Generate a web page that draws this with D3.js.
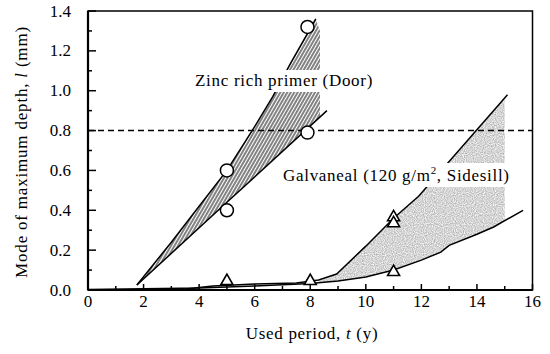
<!DOCTYPE html>
<html><head><meta charset="utf-8">
<script src="https://cdn.jsdelivr.net/npm/d3@7"></script>
<style>body{margin:0;background:#fff}svg{display:block}</style>
</head><body>
<svg id="c" width="550" height="354" font-family="'Liberation Serif', 'DejaVu Serif', serif"></svg>
<script>
// ---- data ----
const xTicks = [0,2,4,6,8,10,12,14,16];
const yTicks = [0.0,0.2,0.4,0.6,0.8,1.0,1.2,1.4];
const criticalDepth = 0.8;
const zincUpper = [[1.76,0.025],[3,0.24],[4,0.42],[5,0.6],[6,0.82],[6.65,0.97],[7.3,1.14],[8.2,1.36]];
const zincLower = [[1.76,0.025],[5,0.44],[8.6,0.9]];
const zincCircles = [[5,0.6],[5,0.4],[7.9,0.79],[7.9,1.32]];
const galvUpper = [[3.5,0.005],[4.5,0.02],[6,0.03],[7.5,0.035],[8.3,0.05],[8.95,0.08],[10,0.22],[11,0.36],[11.9,0.47],[13,0.645],[15.1,0.98]];
const galvLower = [[0,0.003],[4,0.01],[6,0.02],[8,0.033],[9,0.045],[10,0.065],[11,0.1],[12,0.15],[12.7,0.19],[13,0.224],[14,0.28],[14.6,0.316],[15.66,0.40]];
const galvTriangles = [[5,0.045],[8,0.045],[11,0.365],[11,0.335],[11,0.09]];
const zincHatchEnd = 8.35;
const galvStippleStart = 8.3, galvStippleEnd = 15.0;

// ---- setup ----
const svg = d3.select("#c");
const x = d3.scaleLinear().domain([0,16]).range([88,532.5]);
const y = d3.scaleLinear().domain([0,1.4]).range([290,11]);
const line = d3.line().x(d=>x(d[0])).y(d=>y(d[1]));
const interp = (pts,t)=>{for(let i=1;i<pts.length;i++){if(t<=pts[i][0]){const a=pts[i-1],b=pts[i];return a[1]+(b[1]-a[1])*(t-a[0])/(b[0]-a[0]);}}return pts[pts.length-1][1];};

const defs = svg.append("defs");
const hatch = defs.append("pattern").attr("id","hatch").attr("patternUnits","userSpaceOnUse")
  .attr("width",3).attr("height",3).attr("patternTransform","rotate(30)");
hatch.append("line").attr("x1",1).attr("y1",0).attr("x2",1).attr("y2",3).attr("stroke","#1a1a1a").attr("stroke-width",1.1);
const filt = defs.append("filter").attr("id","stip").attr("x",0).attr("y",0).attr("width",1).attr("height",1);
filt.append("feTurbulence").attr("type","fractalNoise").attr("baseFrequency",0.9).attr("numOctaves",1).attr("seed",3).attr("result","n");
filt.append("feColorMatrix").attr("in","n").attr("type","matrix")
  .attr("values","0 0 0 0 0.45  0 0 0 0 0.45  0 0 0 0 0.45  0 0 0 -1.8 1.45").attr("result","c");
filt.append("feComposite").attr("in","c").attr("in2","SourceGraphic").attr("operator","in");

// ---- regions ----
const zincPoly = zincUpper.filter(d=>d[0]<=8.2).concat([[zincHatchEnd,1.3],[zincHatchEnd,interp(zincLower,zincHatchEnd)]])
  .concat(zincLower.filter(d=>d[0]<zincHatchEnd).reverse());
svg.append("path").attr("d",line(zincPoly)+"Z").attr("fill","url(#hatch)");

const gu = galvUpper.filter(d=>d[0]>=galvStippleStart && d[0]<=galvStippleEnd);
const gl = galvLower.filter(d=>d[0]>=galvStippleStart && d[0]<=galvStippleEnd);
const galvPoly = [[galvStippleStart,interp(galvUpper,galvStippleStart)]].concat(gu)
  .concat([[galvStippleEnd,interp(galvUpper,galvStippleEnd)],[galvStippleEnd,interp(galvLower,galvStippleEnd)]])
  .concat(gl.reverse()).concat([[galvStippleStart,interp(galvLower,galvStippleStart)]]);
svg.append("path").attr("d",line(galvPoly)+"Z").attr("fill","#000").attr("filter","url(#stip)");

// ---- lines ----
[zincUpper,zincLower,galvUpper,galvLower].forEach(p=>{
  svg.append("path").attr("d",line(p)).attr("fill","none").attr("stroke","#000").attr("stroke-width",1.5);
});

// dashed critical line
svg.append("line").attr("x1",x(0)).attr("x2",x(16)).attr("y1",y(criticalDepth)).attr("y2",y(criticalDepth))
  .attr("stroke","#000").attr("stroke-width",1.5).attr("stroke-dasharray","6,4");

// ---- annotations with white background ----
function label(tx,ty,build){
  const g = svg.append("g");
  const r = g.append("rect").attr("fill","#fff");
  const t = g.append("text").attr("x",tx).attr("y",ty).attr("font-size",17).attr("letter-spacing",0.7);
  build(t);
  const b = t.node().getBBox();
  r.attr("x",b.x-2).attr("y",b.y-1).attr("width",b.width+4).attr("height",b.height+3);
}
label(195,86,t=>t.text("Zinc rich primer (Door)"));
label(283,181,t=>{
  t.append("tspan").text("Galvaneal (120 g/m");
  t.append("tspan").attr("dy",-7).attr("font-size",11).text("2");
  t.append("tspan").attr("dy",7).text(", Sidesill)");
});

// ---- markers ----
svg.selectAll("circle.m").data(zincCircles).join("circle").attr("class","m")
  .attr("cx",d=>x(d[0])).attr("cy",d=>y(d[1])).attr("r",6.5)
  .attr("fill","#fff").attr("stroke","#000").attr("stroke-width",1.5);
const tri = d3.symbol().type(d3.symbolTriangle).size(62);
svg.selectAll("path.t").data(galvTriangles).join("path").attr("class","t")
  .attr("d",tri).attr("transform",d=>`translate(${x(d[0])},${y(d[1])})`)
  .attr("fill","#fff").attr("stroke","#000").attr("stroke-width",1.6);

// ---- axes ----
const ax = svg.append("g");
d3.range(1,16,2).forEach(v=>ax.append("line").attr("x1",x(v)).attr("x2",x(v)).attr("y1",y(0)).attr("y2",y(0)-4).attr("stroke","#000").attr("stroke-width",1.5));
xTicks.forEach(v=>ax.append("line").attr("x1",x(v)).attr("x2",x(v)).attr("y1",y(0)).attr("y2",y(0)-6).attr("stroke","#000").attr("stroke-width",1.5));
d3.range(0.1,1.4,0.2).forEach(v=>ax.append("line").attr("x1",x(0)).attr("x2",x(0)+4).attr("y1",y(v)).attr("y2",y(v)).attr("stroke","#000").attr("stroke-width",1.5));
yTicks.forEach(v=>ax.append("line").attr("x1",x(0)).attr("x2",x(0)+8).attr("y1",y(v)).attr("y2",y(v)).attr("stroke","#000").attr("stroke-width",1.5));
ax.append("rect").attr("x",x(0)).attr("y",y(1.4)).attr("width",x(16)-x(0)).attr("height",y(0)-y(1.4))
  .attr("fill","none").attr("stroke","#000").attr("stroke-width",1.5);
ax.append("line").attr("x1",x(0)).attr("x2",x(16)).attr("y1",y(0)).attr("y2",y(0)).attr("stroke","#000").attr("stroke-width",2.2);
ax.append("line").attr("x1",x(0)).attr("x2",x(0)).attr("y1",y(0)).attr("y2",y(1.4)).attr("stroke","#000").attr("stroke-width",2.2);
xTicks.forEach(v=>ax.append("text").attr("x",x(v)).attr("y",307).attr("text-anchor","middle").attr("font-size",17).text(v));
yTicks.forEach(v=>ax.append("text").attr("x",71).attr("y",y(v)+5.5).attr("text-anchor","end").attr("font-size",17).text(v.toFixed(1)));
const xt = ax.append("text").attr("x",312).attr("y",339).attr("text-anchor","middle").attr("font-size",17).attr("letter-spacing",0.7);
xt.append("tspan").text("Used period, ");
xt.append("tspan").attr("font-style","italic").text("t");
xt.append("tspan").text(" (y)");
const yt = ax.append("text").attr("transform","translate(27,152) rotate(-90)").attr("text-anchor","middle").attr("font-size",17).attr("letter-spacing",0.8);
yt.append("tspan").text("Mode of maximum depth, ");
yt.append("tspan").attr("font-style","italic").text("l");
yt.append("tspan").text(" (mm)");
</script>
</body></html>
